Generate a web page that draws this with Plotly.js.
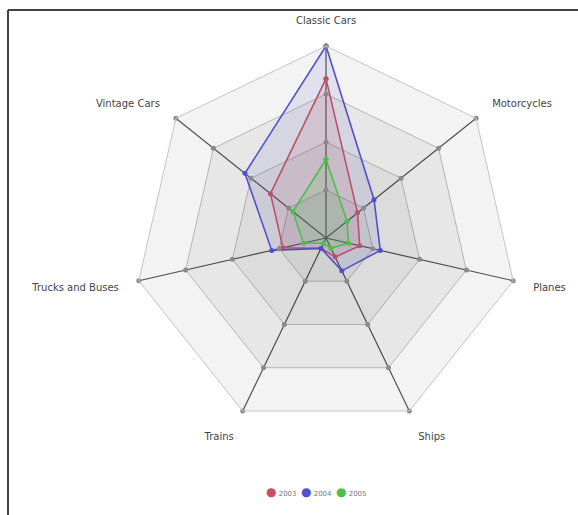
<!DOCTYPE html>
<html>
<head>
<meta charset="utf-8">
<script src="https://cdn.plot.ly/plotly-3.0.1.min.js"></script>
<style>html,body{margin:0;padding:0;background:#fff;}#chart{width:578px;height:515px;}</style>
</head>
<body>
<div id="chart"></div>
<script>
// Categories (clockwise from top)
const categories = ["Classic Cars", "Motorcycles", "Planes", "Ships", "Trains", "Trucks and Buses", "Vintage Cars"];
// Series values (percent of the radial maximum)
const years = ["2003", "2004", "2005"];
const sales2003 = [83, 21, 18, 11, 6, 23, 37];
const sales2004 = [100, 32, 29, 19, 6, 29, 54];
const sales2005 = [41, 14, 12, 6, 3, 12, 22];
// Grid levels
const gridLevels = [25, 50, 75, 100];
const radialMax = 100;

const seriesColors = ["#c8505e", "#5050cc", "#4cbf4c"];
const seriesFills = ["rgba(200,80,94,0.14)", "rgba(80,80,204,0.11)", "rgba(76,191,76,0.16)"];

const closed = arr => arr.concat([arr[0]]);
const thetaClosed = closed(categories);

const traces = [];

// Gray bands (stacked translucent polygons)
gridLevels.slice().reverse().forEach(level => {
  traces.push({
    type: "scatterpolar", mode: "lines",
    r: closed(categories.map(() => level)), theta: thetaClosed,
    fill: "toself", fillcolor: "rgba(0,0,0,0.048)",
    line: {color: "rgba(0,0,0,0)", width: 0},
    hoverinfo: "skip", showlegend: false
  });
});

// Series
const seriesData = [sales2003, sales2004, sales2005];
seriesData.forEach((vals, i) => {
  traces.push({
    type: "scatterpolar", mode: "lines+markers",
    r: closed(vals), theta: thetaClosed,
    fill: "toself", fillcolor: seriesFills[i],
    line: {color: seriesColors[i], width: 1.6},
    marker: {color: seriesColors[i], size: 5},
    name: years[i], showlegend: false
  });
});

// Grid dots on spokes
const dotR = [], dotT = [];
categories.forEach(c => gridLevels.forEach(l => { dotR.push(l); dotT.push(c); }));
traces.push({
  type: "scatterpolar", mode: "markers", r: dotR, theta: dotT,
  marker: {color: "#8a8a8a", size: 5}, hoverinfo: "skip", showlegend: false
});

// Compact legend built as text
const legendText = years.map((y, i) =>
  '<span style="color:' + seriesColors[i] + ';font-size:12px">●</span> ' + y
).join('  ');

const layout = {
  width: 578, height: 515,
  margin: {l: 0, r: 0, t: 0, b: 0},
  paper_bgcolor: "#ffffff",
  showlegend: false,
  polar: {
    domain: {x: [134/578, 518/578], y: [85/515, 469/515]},
    gridshape: "linear",
    bgcolor: "rgba(0,0,0,0)",
    radialaxis: {
      range: [0, radialMax], tickvals: gridLevels, showticklabels: false,
      ticks: "", showline: false, gridcolor: "#c4c4c4", gridwidth: 1
    },
    angularaxis: {
      rotation: 90, direction: "clockwise",
      categoryorder: "array", categoryarray: categories,
      gridcolor: "#555555", gridwidth: 1.2,
      showline: true, linecolor: "#c4c4c4", linewidth: 1,
      ticks: "outside", ticklen: 18, tickcolor: "rgba(0,0,0,0)",
      tickfont: {family: "DejaVu Sans", size: 10, color: "#444"}
    }
  },
  annotations: [{
    xref: "paper", yref: "paper", x: 0.548, y: 0.045, xanchor: "center", yanchor: "middle",
    showarrow: false, text: legendText,
    font: {family: "DejaVu Sans", size: 7, color: "#777"}
  }],
  shapes: [
    {type: "line", xref: "paper", yref: "paper", x0: 8/578, x1: 1, y0: 1 - 10/515, y1: 1 - 10/515, line: {color: "#444", width: 2}},
    {type: "line", xref: "paper", yref: "paper", x0: 8/578, x1: 8/578, y0: 0, y1: 1 - 10/515, line: {color: "#444", width: 2}}
  ]
};

Plotly.newPlot("chart", traces, layout, {displayModeBar: false, staticPlot: true});
</script>
</body>
</html>
